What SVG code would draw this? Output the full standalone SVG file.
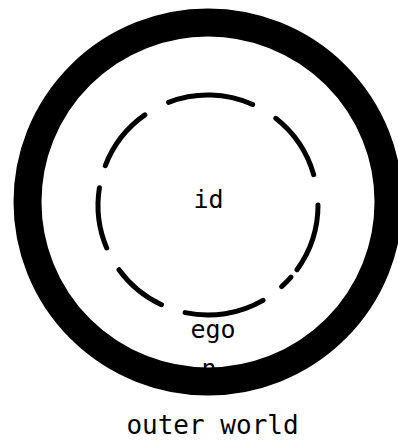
<svg xmlns="http://www.w3.org/2000/svg" width="398" height="441" viewBox="0 0 398 441">
  <style>
    .lbl { font-family: "DejaVu Sans Mono", "Liberation Mono", monospace; fill: #000; text-anchor: middle; }
    .dash { fill: none; stroke: #000; stroke-width: 5; stroke-linecap: round; }
  </style>
  <rect x="0" y="0" width="398" height="441" fill="#fff"/>
  <g id="hidden-label">
    <text class="lbl" x="209" y="377" font-size="25">n</text>
  </g>
  <g id="outer-ring">
    <ellipse cx="208" cy="202" rx="180.5" ry="179.5" fill="none" stroke="#000" stroke-width="28"/>
  </g>
  <g id="id-boundary">
    <path class="dash" d="M168.6,102.3 A110,110 0 0 1 252.7,104.5"/>
    <path class="dash" d="M275.7,118.3 A110,110 0 0 1 313.7,174.7"/>
    <path class="dash" d="M318,205 A110,110 0 0 1 297,269.7"/>
    <path class="dash" d="M291,277.2 A110,110 0 0 1 281.6,286.7"/>
    <path class="dash" d="M263,300.3 A110,110 0 0 1 185.1,312.6"/>
    <path class="dash" d="M161.5,304.7 A110,110 0 0 1 119,269.7"/>
    <path class="dash" d="M106.7,248 A110,110 0 0 1 99.4,187.8"/>
    <path class="dash" d="M105.3,165.6 A110,110 0 0 1 144.9,114.9"/>
  </g>
  <g id="labels">
    <text class="lbl" x="208.5" y="208" font-size="25">id</text>
    <text class="lbl" x="213" y="338" font-size="25">ego</text>
    <text class="lbl" x="212.5" y="434" font-size="26">outer world</text>
  </g>
</svg>
